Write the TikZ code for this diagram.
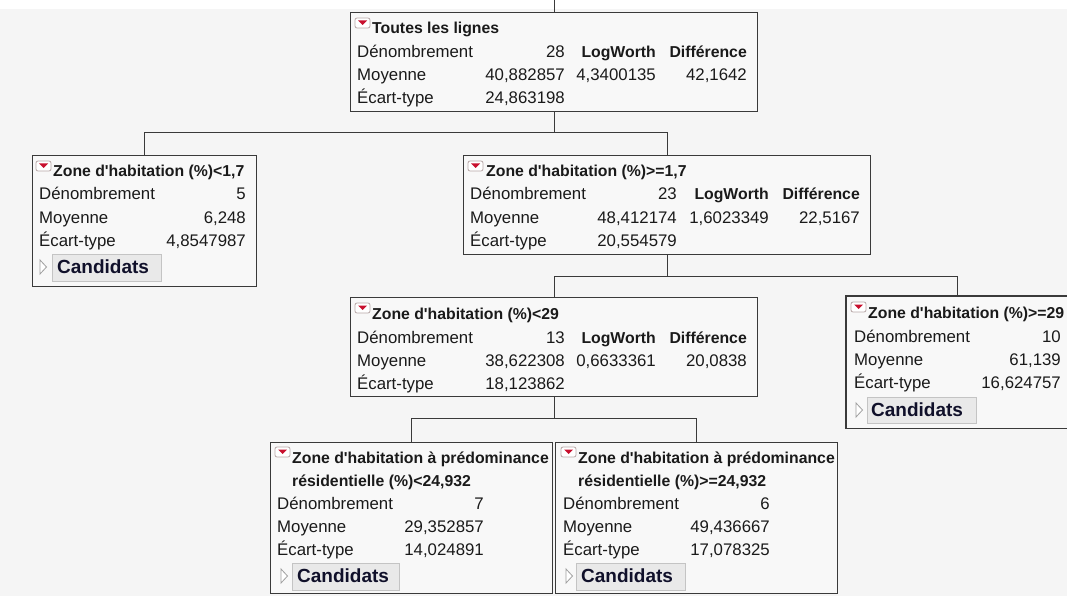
\documentclass[tikz,border=0pt]{standalone}
\usepackage{fontspec}
\setmainfont{Liberation Sans}
\definecolor{bgc}{HTML}{F5F5F5}
\definecolor{boxf}{HTML}{F8F8F8}
\definecolor{boxc}{HTML}{3A3A3A}
\definecolor{linec}{HTML}{3A3A3A}
\definecolor{txt}{HTML}{1A1A1A}
\definecolor{btnf}{HTML}{E9E9E9}
\definecolor{btnc}{HTML}{C4C4C4}
\definecolor{icred}{HTML}{C8102E}
\definecolor{icbd}{HTML}{B8A8A8}
\newcommand\fsreg{\fontsize{16.8}{20}\selectfont}
\newcommand\fsbold{\fontsize{15.8}{20}\selectfont\bfseries}
\newcommand\fsbtn{\fontsize{19}{22}\selectfont\bfseries}
\newcommand\ap{\textquotesingle}
% red menu icon: top-left corner
\newcommand\redicon[2]{%
  \draw[draw=icbd, fill=white, line width=0.8pt, rounded corners=2pt] (#1,#2) rectangle ++(15,10);
  \fill[icred] (#1+3,#2+2.5) -- (#1+12,#2+2.5) -- (#1+7.5,#2+7) -- cycle;}
% expander triangle: left x, top y
\newcommand\expander[2]{%
  \draw[draw=gray!75, fill=white, line width=0.8pt, line join=miter] (#1,#2) -- (#1+6.5,#2+7) -- (#1,#2+14) -- cycle;}
\begin{document}
\begin{tikzpicture}[x=1pt,y=-1pt,
  box/.style={draw=boxc, fill=boxf, line width=1.3pt, inner sep=0pt, anchor=north west},
  btn/.style={draw=btnc, fill=btnf, line width=0.8pt, inner sep=0pt, anchor=north west},
  conn/.style={draw=linec, line width=1.3pt},
  lab/.style={anchor=base west, inner sep=0pt, text=txt, font=\fsreg},
  val/.style={anchor=base east, inner sep=0pt, text=txt, font=\fsreg},
  hd/.style={anchor=base east, inner sep=0pt, text=txt, font=\fsbold},
  ttl/.style={anchor=base west, inner sep=0pt, text=txt, font=\fsbold},
  btxt/.style={anchor=base west, inner sep=0pt, text=txt!85!blue!70!black, font=\fsbtn}]
\useasboundingbox (0,0) rectangle (1067,596);
\clip (0,0) rectangle (1067,596);
\fill[bgc] (0,0) rectangle (1067,596);
\fill[white] (0,0) rectangle (1067,9);

% ---------- boxes ----------
\node[box, minimum width=407pt, minimum height=99pt] (root) at (350,12) {};
\node[box, minimum width=224pt, minimum height=131pt] (c1) at (32,155) {};
\node[box, minimum width=407pt, minimum height=99pt] (c2) at (463,155) {};
\node[box, minimum width=407pt, minimum height=99pt] (c3) at (350,297) {};
\node[box, draw=none, minimum width=250pt, minimum height=131pt] (c4) at (846,296) {};
\draw[draw=boxc, line width=1.3pt] (c4.north east) -- (c4.north west) -- (c4.south west) -- (c4.south east);
\node[box, minimum width=282pt, minimum height=151pt] (c5) at (270,442) {};
\node[box, minimum width=282pt, minimum height=151pt] (c6) at (555,442) {};

% ---------- connectors ----------
\coordinate (top) at (root.north |- 0,0);
\path (root.south) ++(0,20) coordinate (j1);
\path (c2.south) ++(0,21) coordinate (j2);
\path (c3.south) ++(0,21) coordinate (j3);
\coordinate (c4top) at ([xshift=111.5pt]c4.north west);
\draw[conn] (top) -- (root.north);
\draw[conn] (root.south) -- (j1);
\draw[conn] (c1.north) |- (j1);
\draw[conn] (c2.north) |- (j1);
\draw[conn] (c2.south) -- (j2);
\draw[conn] (c3.north) |- (j2);
\draw[conn] (c4top) |- (j2);
\draw[conn] (c3.south) -- (j3);
\draw[conn] (c5.north) |- (j3);
\draw[conn] (c6.north) |- (j3);

% ---------- root ----------
\redicon{355}{18}
\node[ttl] (r-t) at (372,34) {Toutes les lignes};
\node[lab] (r-l1) at (357,58) {Dénombrement};
\node[lab] (r-l2) at (357,81) {Moyenne};
\node[lab] (r-l3) at (357,104) {Écart-type};
\node[val] (r-v1) at (565,58) {28};
\node[val] (r-v2) at (565,81) {40,882857};
\node[val] (r-v3) at (565,104) {24,863198};
\node[hd] (r-h1) at (656,58) {LogWorth};
\node[val] (r-h1v) at (656,81) {4,3400135};
\node[hd] (r-h2) at (747,58) {Différence};
\node[val] (r-h2v) at (747,81) {42,1642};

% ---------- c1 : <1,7 ----------
\redicon{36}{161}
\node[ttl] (a-t) at (53,177) {Zone d\ap habitation (\%)<1,7};
\node[lab] (a-l1) at (39,200) {Dénombrement};
\node[lab] (a-l2) at (39,223) {Moyenne};
\node[lab] (a-l3) at (39,246) {Écart-type};
\node[val] (a-v1) at (246,200) {5};
\node[val] (a-v2) at (246,223) {6,248};
\node[val] (a-v3) at (246,246) {4,8547987};
\expander{40}{260}
\node[btn, minimum width=109pt, minimum height=27pt] (a-b) at (52,254) {};
\node[btxt] (a-bt) at (57,273) {Candidats};

% ---------- c2 : >=1,7 ----------
\redicon{468}{161}
\node[ttl] (b-t) at (486,177) {Zone d\ap habitation (\%)>=1,7};
\node[lab] (b-l1) at (470,200) {Dénombrement};
\node[lab] (b-l2) at (470,223) {Moyenne};
\node[lab] (b-l3) at (470,246) {Écart-type};
\node[val] (b-v1) at (677,200) {23};
\node[val] (b-v2) at (677,223) {48,412174};
\node[val] (b-v3) at (677,246) {20,554579};
\node[hd] (b-h1) at (769,200) {LogWorth};
\node[val] (b-h1v) at (769,223) {1,6023349};
\node[hd] (b-h2) at (860,200) {Différence};
\node[val] (b-h2v) at (860,223) {22,5167};

% ---------- c3 : <29 ----------
\redicon{355}{303}
\node[ttl] (c-t) at (372,319) {Zone d\ap habitation (\%)<29};
\node[lab] (c-l1) at (357,343) {Dénombrement};
\node[lab] (c-l2) at (357,366) {Moyenne};
\node[lab] (c-l3) at (357,389) {Écart-type};
\node[val] (c-v1) at (565,343) {13};
\node[val] (c-v2) at (565,366) {38,622308};
\node[val] (c-v3) at (565,389) {18,123862};
\node[hd] (c-h1) at (656,343) {LogWorth};
\node[val] (c-h1v) at (656,366) {0,6633361};
\node[hd] (c-h2) at (747,343) {Différence};
\node[val] (c-h2v) at (747,366) {20,0838};

% ---------- c4 : >=29 ----------
\redicon{851}{302}
\node[ttl] (d-t) at (868,318) {Zone d\ap habitation (\%)>=29};
\node[lab] (d-l1) at (854,342) {Dénombrement};
\node[lab] (d-l2) at (854,365) {Moyenne};
\node[lab] (d-l3) at (854,388) {Écart-type};
\node[val] (d-v1) at (1061,342) {10};
\node[val] (d-v2) at (1061,365) {61,139};
\node[val] (d-v3) at (1061,388) {16,624757};
\expander{856}{403}
\node[btn, minimum width=109pt, minimum height=26pt] (d-b) at (867,397) {};
\node[btxt] (d-bt) at (871,416) {Candidats};

% ---------- c5 : <24,932 ----------
\redicon{275}{447}
\node[ttl] (e-t1) at (292,463) {Zone d\ap habitation à prédominance};
\node[ttl] (e-t2) at (292,486) {résidentielle (\%)<24,932};
\node[lab] (e-l1) at (277,509) {Dénombrement};
\node[lab] (e-l2) at (277,532) {Moyenne};
\node[lab] (e-l3) at (277,555) {Écart-type};
\node[val] (e-v1) at (484,509) {7};
\node[val] (e-v2) at (484,532) {29,352857};
\node[val] (e-v3) at (484,555) {14,024891};
\expander{281}{569}
\node[btn, minimum width=107pt, minimum height=27pt] (e-b) at (292,563) {};
\node[btxt] (e-bt) at (297,582) {Candidats};

% ---------- c6 : >=24,932 ----------
\redicon{561}{447}
\node[ttl] (f-t1) at (578,463) {Zone d\ap habitation à prédominance};
\node[ttl] (f-t2) at (578,486) {résidentielle (\%)>=24,932};
\node[lab] (f-l1) at (563,509) {Dénombrement};
\node[lab] (f-l2) at (563,532) {Moyenne};
\node[lab] (f-l3) at (563,555) {Écart-type};
\node[val] (f-v1) at (770,509) {6};
\node[val] (f-v2) at (770,532) {49,436667};
\node[val] (f-v3) at (770,555) {17,078325};
\expander{566}{569}
\node[btn, minimum width=109pt, minimum height=27pt] (f-b) at (576,563) {};
\node[btxt] (f-bt) at (581,582) {Candidats};
\end{tikzpicture}
\end{document}
